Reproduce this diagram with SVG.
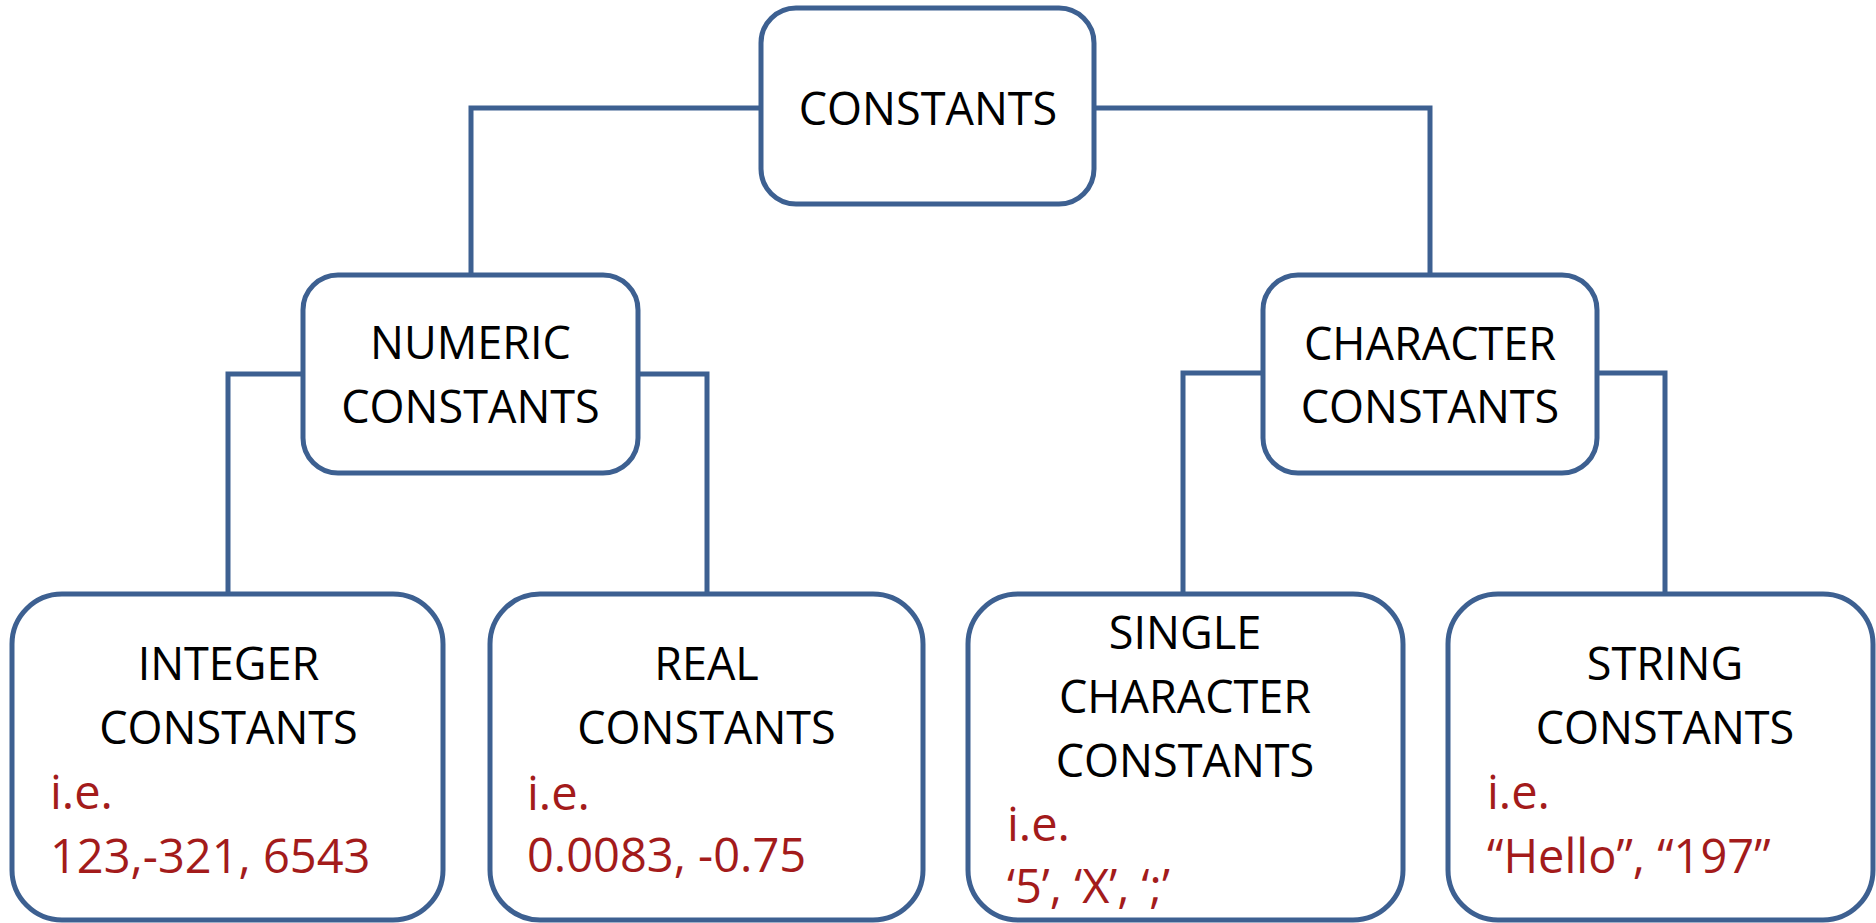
<svg xmlns="http://www.w3.org/2000/svg" width="1876" height="923" viewBox="0 0 1876 923">
  <style>
    .box { fill: #ffffff; stroke: #3d6091; stroke-width: 5; }
    .link { fill: none; stroke: #3d6091; stroke-width: 5; stroke-linejoin: miter; }
    .lbl { font-family: "Open Sans", "Noto Sans", sans-serif; font-size: 45px; fill: #000000; text-anchor: middle; }
    .ex { font-family: "Open Sans", "Noto Sans", sans-serif; font-size: 47px; fill: #a31b1b; }
  </style>
  <rect x="0" y="0" width="1876" height="923" fill="#ffffff"/>

  <!-- tree connectors -->
  <g id="connectors">
    <polyline class="link" points="761,108 471,108 471,275"/>
    <polyline class="link" points="1094,108 1430,108 1430,275"/>
    <polyline class="link" points="303,374 228,374 228,594"/>
    <polyline class="link" points="638,374 707,374 707,594"/>
    <polyline class="link" points="1263,373 1183,373 1183,594"/>
    <polyline class="link" points="1597,373 1665,373 1665,594"/>
  </g>

  <g id="constants">
    <rect class="box" x="761" y="8" width="333" height="196" rx="35" ry="35"/>
    <text class="lbl" x="928" y="125">CONSTANTS</text>
  </g>

  <g id="numeric">
    <rect class="box" x="303" y="275" width="335" height="198" rx="35" ry="35"/>
    <text class="lbl" x="470.5" y="359">NUMERIC</text>
    <text class="lbl" x="470.5" y="423">CONSTANTS</text>
  </g>

  <g id="character">
    <rect class="box" x="1263" y="275" width="334" height="198" rx="35" ry="35"/>
    <text class="lbl" x="1430" y="360">CHARACTER</text>
    <text class="lbl" x="1430" y="423">CONSTANTS</text>
  </g>

  <g id="integer">
    <rect class="box" x="12" y="594" width="431" height="326" rx="50" ry="50"/>
    <text class="lbl" x="228.5" y="680">INTEGER</text>
    <text class="lbl" x="228.5" y="744">CONSTANTS</text>
    <text class="ex" x="50" y="809">i.e.</text>
    <text class="ex" x="50" y="873">123,-321, 6543</text>
  </g>

  <g id="real">
    <rect class="box" x="490" y="594" width="433" height="326" rx="50" ry="50"/>
    <text class="lbl" x="706.5" y="680">REAL</text>
    <text class="lbl" x="706.5" y="744">CONSTANTS</text>
    <text class="ex" x="527" y="810">i.e.</text>
    <text class="ex" x="527" y="872">0.0083, -0.75</text>
  </g>

  <g id="single">
    <rect class="box" x="968" y="594" width="435" height="326" rx="50" ry="50"/>
    <text class="lbl" x="1185" y="649">SINGLE</text>
    <text class="lbl" x="1185" y="713">CHARACTER</text>
    <text class="lbl" x="1185" y="777">CONSTANTS</text>
    <text class="ex" x="1007" y="841">i.e.</text>
    <text class="ex" x="1007" y="903">‘5’, ‘X’, ‘;’</text>
  </g>

  <g id="string">
    <rect class="box" x="1448" y="594" width="425" height="326" rx="50" ry="50"/>
    <text class="lbl" x="1665" y="680">STRING</text>
    <text class="lbl" x="1665" y="744">CONSTANTS</text>
    <text class="ex" x="1487" y="809">i.e.</text>
    <text class="ex" x="1487" y="873">“Hello”, “197”</text>
  </g>
</svg>
